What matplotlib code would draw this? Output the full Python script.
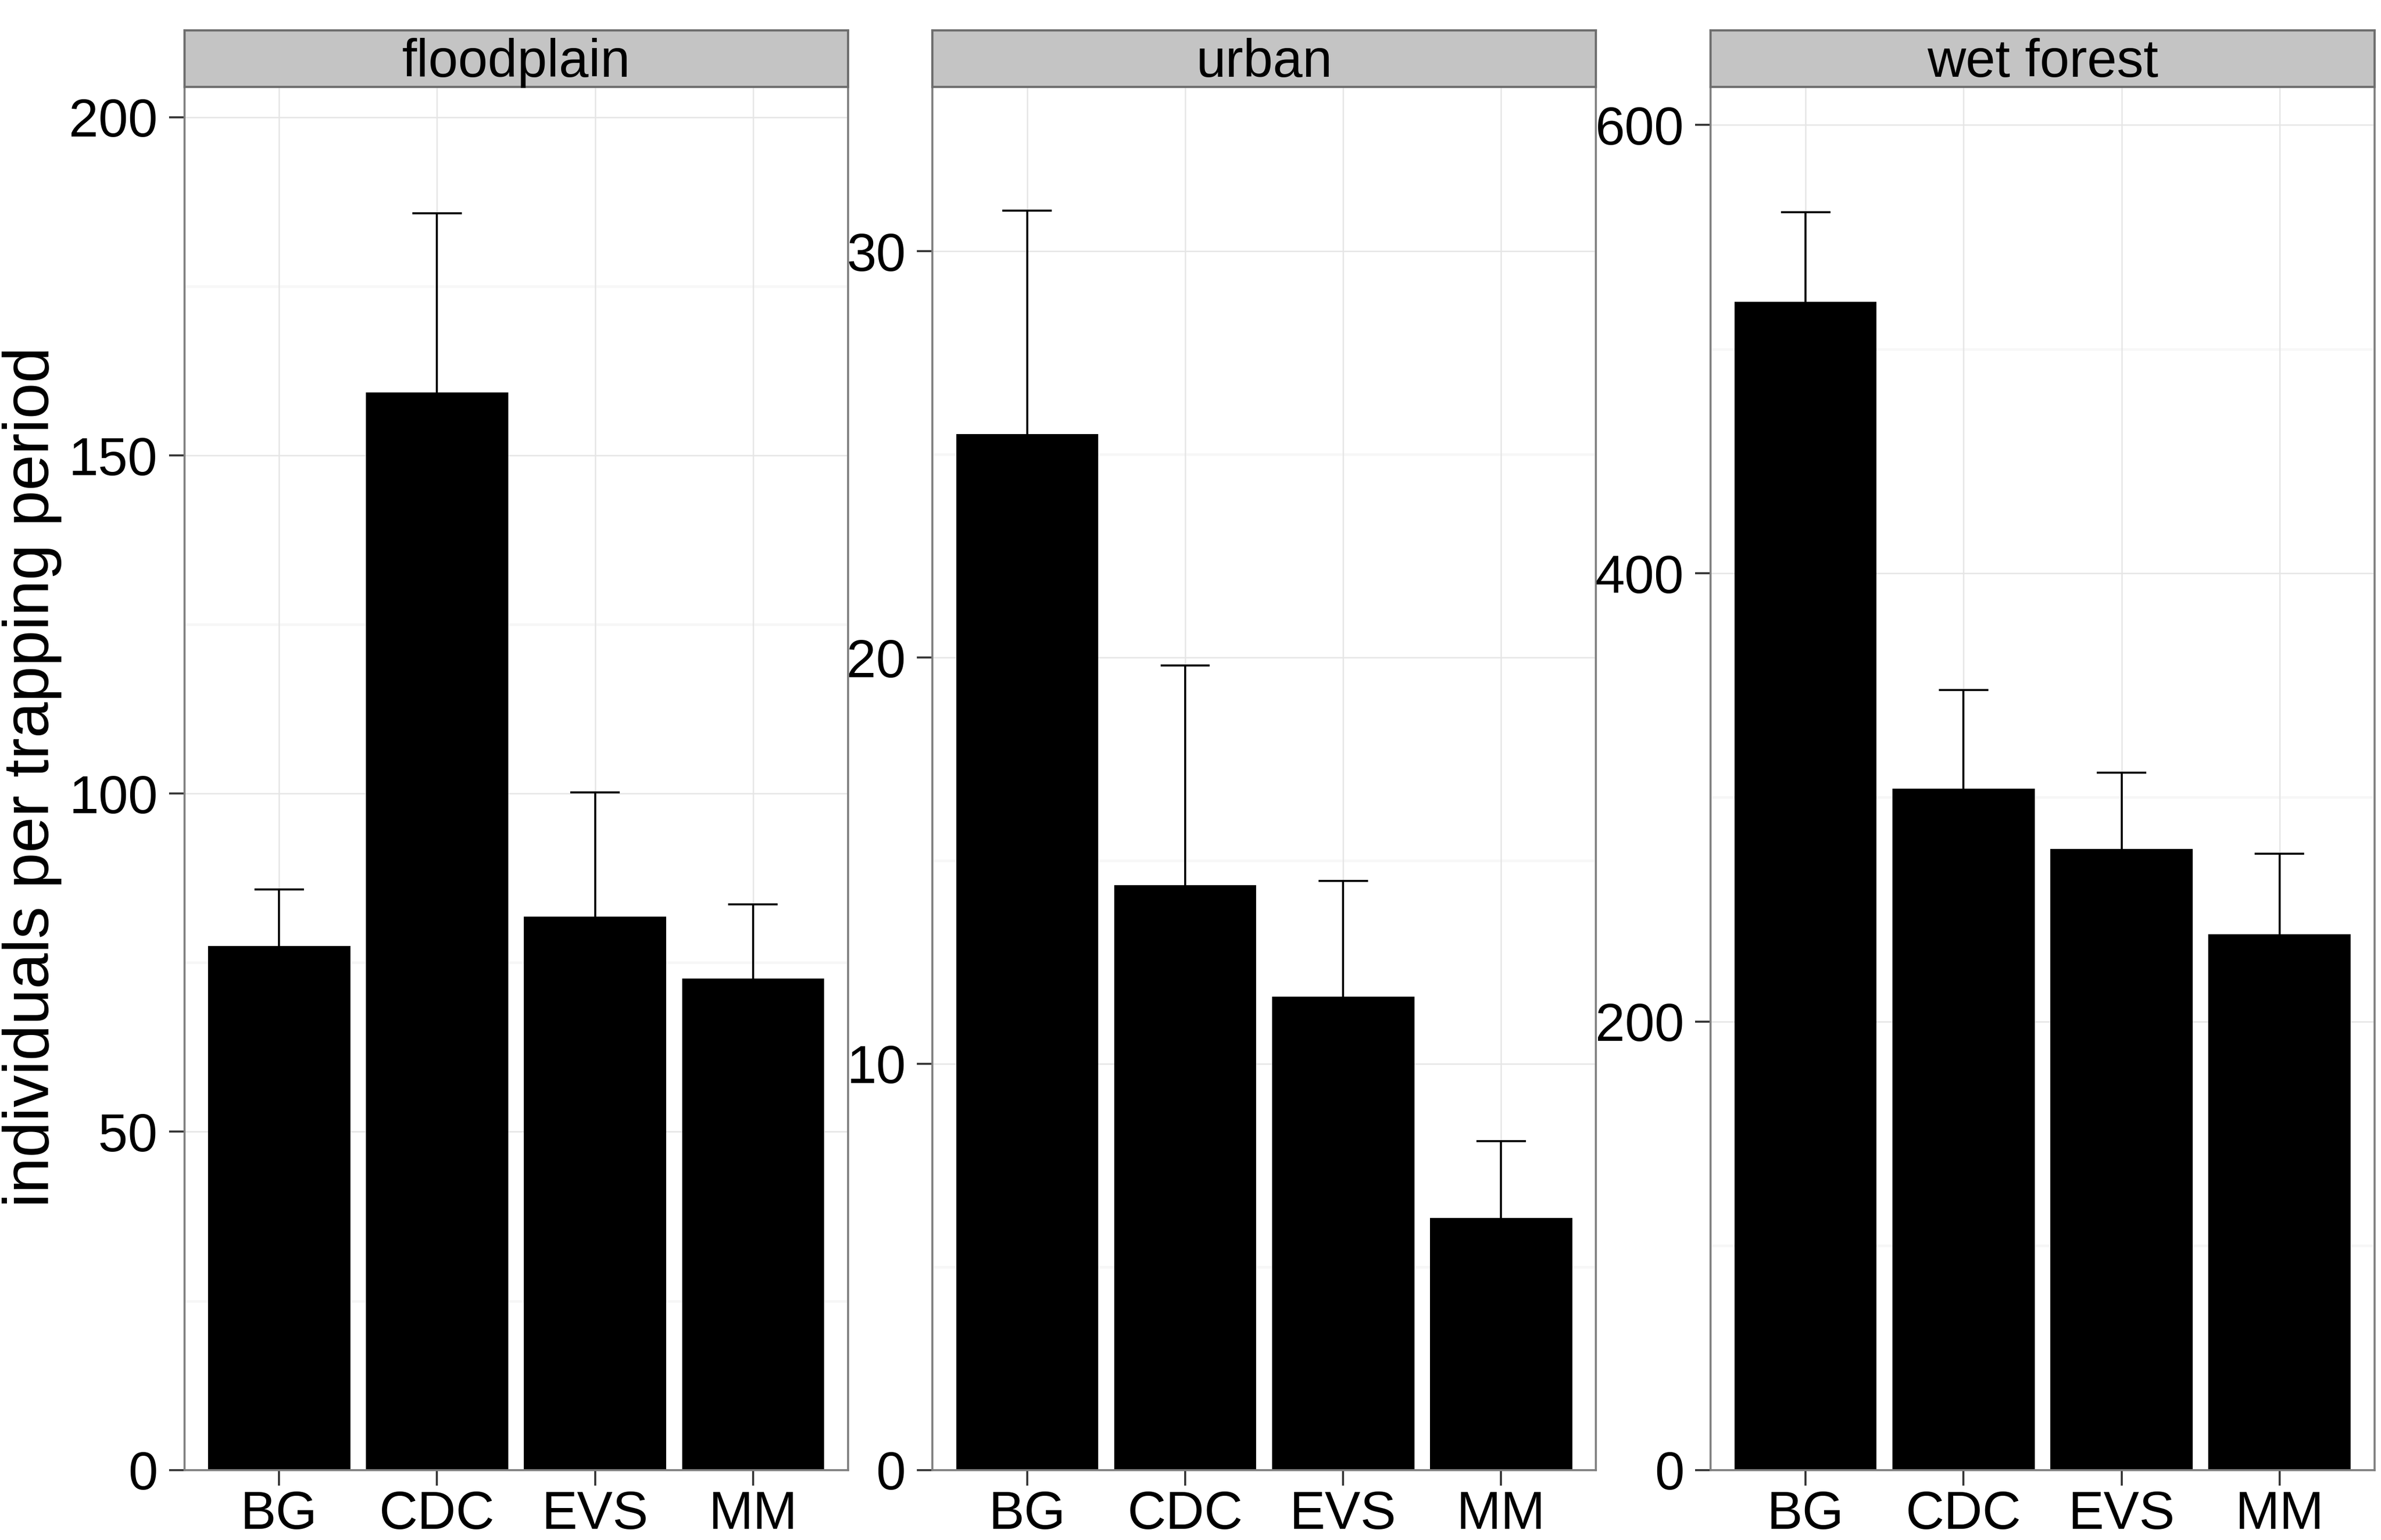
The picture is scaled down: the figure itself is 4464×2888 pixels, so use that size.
import matplotlib.pyplot as plt
import numpy as np

plt.rcParams["font.family"] = ["Liberation Sans", "DejaVu Sans"]

traps = ["BG", "CDC", "EVS", "MM"]
habitats = ["floodplain", "urban", "wet forest"]

floodplain_mean = [77.5, 159.3, 81.8, 72.7]
floodplain_se = [8.3, 26.5, 18.4, 10.9]
urban_mean = [25.5, 14.4, 11.65, 6.2]
urban_se = [5.5, 5.4, 2.85, 1.9]
wetforest_mean = [521, 304, 277, 239]
wetforest_se = [40, 44, 34, 36]

means = [floodplain_mean, urban_mean, wetforest_mean]
ses = [floodplain_se, urban_se, wetforest_se]
ylims = [204.5, 34.05, 617]
major = [[0, 50, 100, 150, 200], [0, 10, 20, 30], [0, 200, 400, 600]]
minor = [[25, 75, 125, 175], [5, 15, 25], [100, 300, 500]]

fig = plt.figure(figsize=(14.88, 9.6267), dpi=300)
lefts = [0.0774, 0.3916, 0.7185]
width = 0.2787
bottom, top = 0.0455, 0.9436
strip_h = 0.0366

x = np.arange(len(traps))
for i, hab in enumerate(habitats):
    ax = fig.add_axes([lefts[i], bottom, width, top - bottom])
    ax.set_facecolor("white")
    ax.set_xlim(-0.6, 3.6)
    ax.set_ylim(0, ylims[i])
    for m in minor[i]:
        ax.axhline(m, color="#F7F7F7", lw=1.2, zorder=0)
    for m in major[i]:
        ax.axhline(m, color="#E5E5E5", lw=0.6, zorder=0)
    for xi in x:
        ax.axvline(xi, color="#E5E5E5", lw=0.6, zorder=0)
    ax.bar(x, means[i], width=0.9, color="black", zorder=2)
    ax.errorbar(x, means[i], yerr=[np.zeros(4), ses[i]], fmt="none",
                ecolor="black", elinewidth=0.9, capsize=0, zorder=3)
    for xi, m, s in zip(x, means[i], ses[i]):
        ax.plot([xi - 0.15, xi + 0.15], [m + s, m + s], color="black", lw=0.9, zorder=3)
    ax.set_xticks(x)
    ax.set_xticklabels(traps)
    ax.set_yticks(major[i])
    ax.tick_params(axis="both", labelsize=24, color="#333333", length=7, width=0.9,
                   labelcolor="black")
    ax.tick_params(axis="x", pad=2)
    ax.tick_params(axis="y", pad=5)
    for sp in ax.spines.values():
        sp.set_color("#7F7F7F")
        sp.set_linewidth(0.9)
    # facet strip
    sax = fig.add_axes([lefts[i], top, width, strip_h])
    sax.set_facecolor("#C4C4C4")
    sax.set_xticks([])
    sax.set_yticks([])
    for sp in sax.spines.values():
        sp.set_color("#6E6E6E")
        sp.set_linewidth(1.0)
    sax.text(0.5, 0.42, hab, ha="center", va="center", fontsize=24,
             transform=sax.transAxes)

fig.text(0.0135, 0.4955, "individuals per trapping period", fontsize=29,
         rotation=90, ha="center", va="center")

fig.savefig("out.png", dpi=300)
